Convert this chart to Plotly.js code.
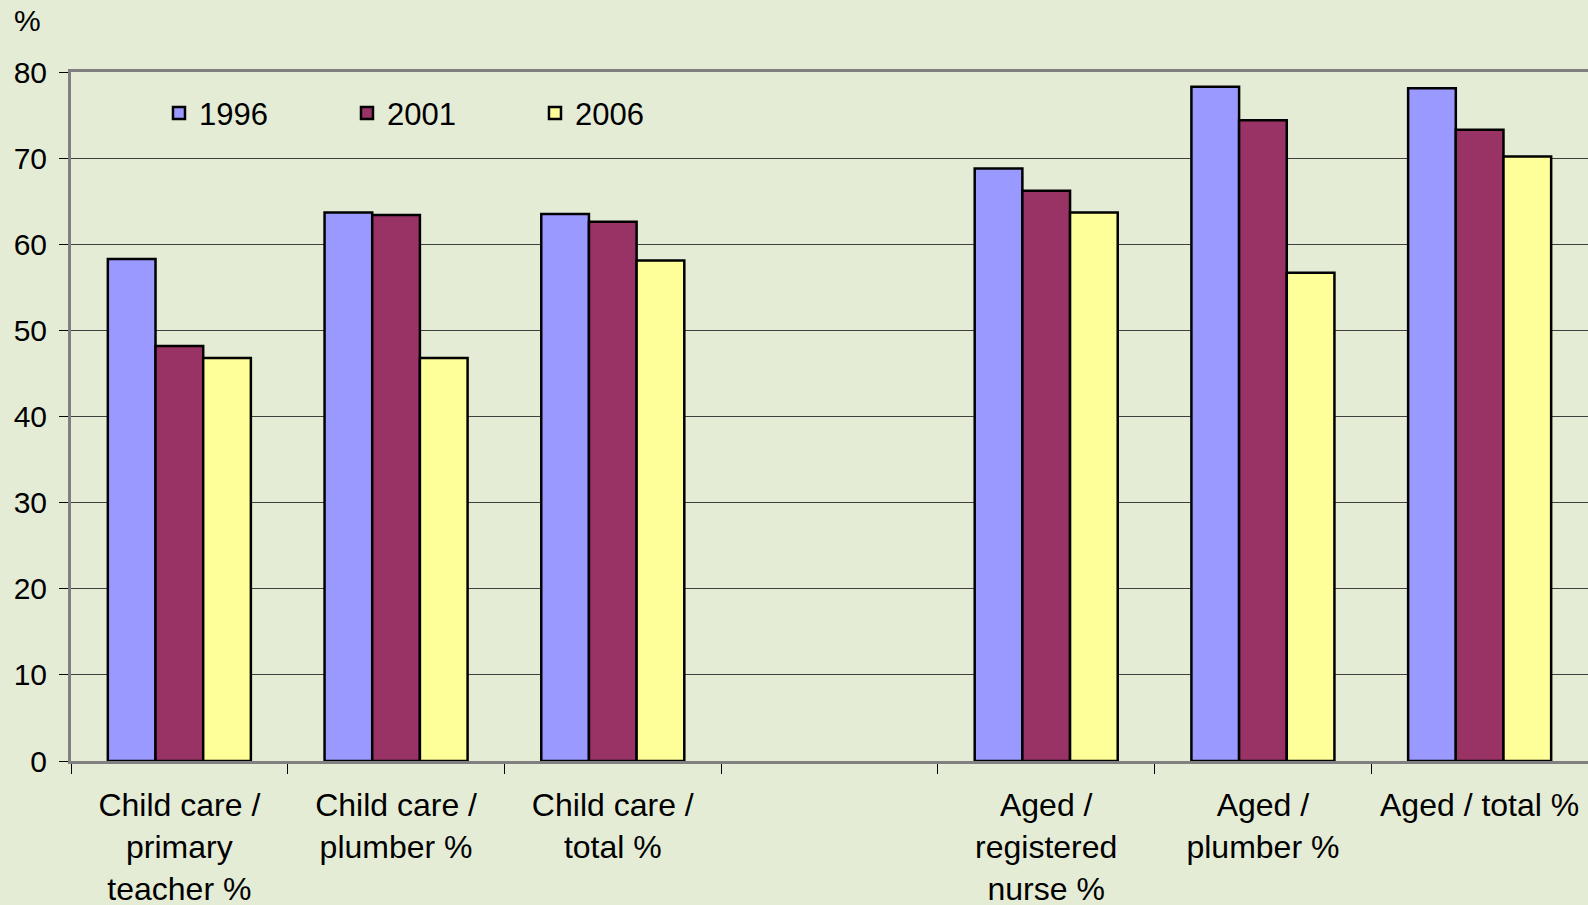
<!DOCTYPE html>
<html>
<head>
<meta charset="utf-8">
<script src="https://cdn.plot.ly/plotly-3.0.1.min.js"></script>
<style>html,body{margin:0;padding:0;background:#E5ECD6;}#chart{width:1588px;height:905px;}</style>
</head>
<body>
<div id="chart"></div>
<script>
const categories = [
  "Child care /<br>primary<br>teacher %",
  "Child care /<br>plumber %",
  "Child care /<br>total %",
  " ",
  "Aged /<br>registered<br>nurse %",
  "Aged /<br>plumber %",
  "Aged / total %"
];
const years = ["1996", "2001", "2006"];
const values1996 = [58.3, 63.7, 63.5, null, 68.8, 78.3, 78.1];
const values2001 = [48.2, 63.4, 62.6, null, 66.2, 74.4, 73.3];
const values2006 = [46.8, 46.8, 58.1, null, 63.7, 56.7, 70.2];
const colors = ["#9999FF", "#993366", "#FFFF99"];

const series = [values1996, values2001, values2006];
const traces = series.map((vals, i) => ({
  type: "bar",
  name: years[i],
  x: categories,
  y: vals,
  marker: {color: colors[i], line: {color: "#000000", width: 2.5}},
  hoverinfo: "y"
}));

const fam = "Liberation Sans, Arial, sans-serif";
const tickFont = {family: fam, size: 30, color: "#000000"};
const catFont = {family: fam, size: 32, color: "#000000"};
const legFont = {family: fam, size: 31, color: "#000000"};

const layout = {
  width: 1588,
  height: 905,
  paper_bgcolor: "#E5ECD6",
  plot_bgcolor: "#E5ECD6",
  font: tickFont,
  margin: {l: 71, r: 0, t: 72, b: 144, pad: 0},
  barmode: "group",
  bargap: 0.34,
  bargroupgap: 0,
  showlegend: true,
  legend: {
    orientation: "h",
    x: 0.058, y: 0.979, xanchor: "left", yanchor: "top",
    bgcolor: "rgba(0,0,0,0)",
    font: legFont,
    entrywidth: 143, entrywidthmode: "pixels",
    itemwidth: 30
  },
  xaxis: {
    type: "category",
    range: [-0.5, 6.5],
    showline: true, linecolor: "#808080", linewidth: 3,
    mirror: true,
    ticks: "outside", tickson: "boundaries", ticklen: 10, tickcolor: "#000000", tickwidth: 1,
    showgrid: false,
    tickfont: catFont,
    ticklabelstandoff: 14,
    tickangle: 0,
    automargin: false
  },
  yaxis: {
    range: [0, 80],
    dtick: 10,
    showline: true, linecolor: "#808080", linewidth: 3,
    ticks: "outside", ticklen: 9, tickcolor: "#000000", tickwidth: 1,
    showgrid: true, gridcolor: "#404040", gridwidth: 1,
    zeroline: false,
    tickfont: tickFont,
    ticklabelstandoff: 6,
    automargin: false
  },
  annotations: [{
    text: "%", xref: "paper", yref: "paper", x: -0.029, y: 1.075,
    xanchor: "center", yanchor: "middle", showarrow: false, font: tickFont
  }]
};

Plotly.newPlot("chart", traces, layout, {displayModeBar: false, staticPlot: true});
</script>
</body>
</html>
